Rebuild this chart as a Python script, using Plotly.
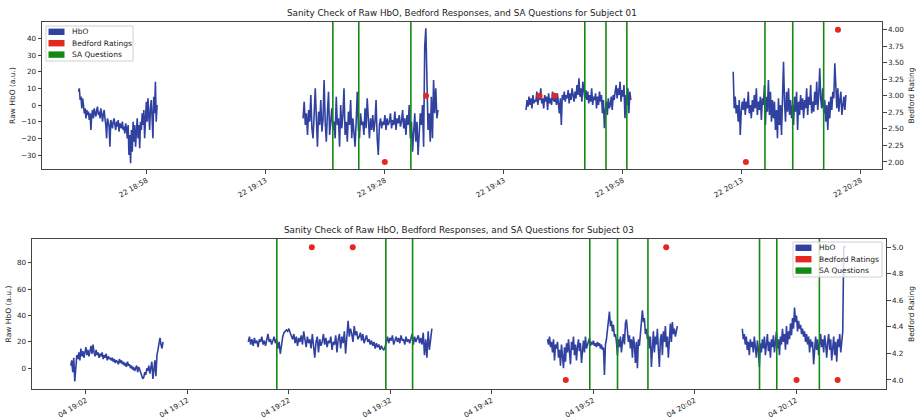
import pandas as pd
import plotly.graph_objects as go

# ---------------- Subject 01 ----------------
s01_day = "2021-09-22"
s01_segments = [("18:49:24", "18:59:18"), ("19:17:42", "19:34:42"),
                ("19:45:48", "19:59:00"), ("20:11:54", "20:26:06")]
s01_hbo_1 = [8, 10, 3, 5, -2, 4, 0, -5, -2, -8, -3, -6, -4, -9, -5, -15, -6, -3, -8, -2, -5, -7, -3, -1, -6, -4, -8, -2, -5, -10, -6, -3, -8,
             -12, -20, -8, -10, -13, -25, -9, -11, -14, -10, -8, -12, -15, -10, -13, -9, -16, -11, -12, -14, -10, -15, -13, -17, -11, -14,
             -20, -12, -30, -18, -35, -15, -28, -10, -22, -12, -25, -15, -8, -20, -12, -26, -10,
             -15, -5, -12, -3, -20, -8, 2, -10, 4, -6, -15, -2, 3, -8, -20, 5, -5, 14, -10, 0]
s01_hbo_2 = [-8, 2, -12, -5, -18, -3, -10, 6, -14,
             -20, -6, 10, -8, -25, -4, -12, 3, -16,
             -9, 15, -10, -22, -5, 8, -18, -12, -2,
             -15, -10, -20, 5, -12, -8, -25, 0, -14,
             -6, 10, -18, -10, -22, -4, -12, 3, -20,
             -8, -15, -25, -10, 8, -14, -20, -5, -12,
             -10, -18, -2, -14, 4, -12, -20, -8, -15,
             -6, -16, -10, 3, -20, -30, -12, -8, -14,
             -10, -12, -6, -15, -8, -12, -10, -5, -14,
             -9, -12, -4, -15, -8, -11, -6, -13, -10,
             -3, -14, -8, -18, -6, -12, 0, -20, -10,
             -28, -15, -5, -22, -10, -30, -18, -5, -12,
             0, -25, 35, 46, 10, -15, -5, -22, 5,
             -20, 15, -5, 10, -8, -3]
s01_hbo_3 = [-3, 3, -1, 5, 0, 4, -2, 6, 1, 3,
             2, 8, 0, 5, 3, 10, 1, 4, -2, 6,
             2, 5, -3, 7, 1, 4, 0, 8, 3, 2,
             5, 0, 7, 2, -5, 4, -12, 6, 3, 8,
             2, 6, 4, 9, 1, 7, 3, 10, 5, 2,
             8, 4, 12, 6, 16, 5, 10, 2, 14, 7,
             4, 9, 3, 8, 1, 6, 2, 10, 0, 5,
             3, 7, -2, 5, 0, 8, 2, 6, -5, 3,
             -14, -3, 2, -6, 4, -2, 0, 5, -3, 6,
             3, 8, 12, 4, 10, 6, 14, 2, 9, 5,
             12, -8, 6, 0, 10, -5, 8, 3]
s01_hbo_4 = [20, -2, 5, -5, 0, -10, 3, -18, -4, 2,
             -3, 4, -6, 2, -2, 8, -5, 0, -8, 3,
             -4, 6, -2, 10, -6, 2, -3, 5, -9, 4,
             0, 12, -12, 5, -4, 15, -6, 8, -10, 3,
             -8, 2, -15, -3, -20, 4, -12, 0, -18, 6,
             26, 2, -10, 8, -4, 10, -6, 3, -8, 0,
             -12, 5, -4, 8, -15, 2, -6, 6, -3, 4,
             -8, 3, -2, 10, -6, 5, 0, 12, -5, 2,
             -4, 8, 0, 14, -3, 6, 22, 4, -2, 10,
             -5, 3, -10, 0, -15, 2, -8, 5, -3, 8,
             4, 25, 6, -2, 10, -4, 3, 8, -6, 2,
             5, -3, 6]
s01_sa_times = ["19:21:27", "19:24:43", "19:31:17", "19:53:12", "19:55:52",
                "19:58:30", "20:15:54", "20:19:24", "20:23:18"]
s01_bedford_times = ["19:28:00", "19:33:12", "19:47:30", "19:49:24", "20:13:30", "20:25:06"]
s01_bedford_vals = [2, 3, 3, 3, 2, 4]

# ---------------- Subject 03 ----------------
s03_day = "2021-10-04"
s03_segments = [("19:00:30", "19:09:36"), ("19:18:00", "19:36:06"),
                ("19:47:30", "20:00:18"), ("20:06:42", "20:16:54")]
s03_hbo_1 = [2, 6, -3, 8, -10, 5, 10, 7, 12, 6,
             15, 9, 13, 8, 11, 16, 10, 14, 9, 12,
             17, 11, 18, 12, 9, 14, 10, 12, 8, 11,
             9, 12, 7, 10, 8, 11, 6, 9, 7, 8,
             6, 8, 5, 7, 4, 6, 5, 3, 7, 4,
             6, 3, 5, 2, 4, 1, 5, 2, 3, 0,
             2, -1, 1, -2, 0, 2, -3, 1, -1, -4,
             -6, -8, -7, -3, -5, 0, -2, 2, -4, 3,
             5, -8, 2, 6, -6, 10, 14, 20, 23, 18,
             15, 20]
s03_hbo_2 = [20, 24, 18, 22, 17, 23, 19, 21, 16, 22,
             20, 24, 18, 21, 17, 23, 26, 20, 22, 18,
             21, 24, 19, 22, 15, 20, 11, 18, 24, 27,
             28, 29, 28, 30, 27, 25, 22, 26, 19, 24,
             17, 23, 20, 25, 18, 28, 21, 16, 24, 19,
             22, 15, 26, 18, 8, 20, 24, 12, 22, 17,
             20, 26, 18, 23, 16, 21, 19, 24, 14, 20,
             18, 25, 12, 22, 26, 15, 24, 19, 28, 11,
             22, 36, 24, 30, 26, 20, 32, 25, 28, 22,
             24, 27, 21, 26, 19, 23, 25, 20, 22, 18,
             21, 17, 20, 15, 19, 16, 18, 14, 17, 15,
             14, 16, 20, 24, 19, 23, 21, 25, 18, 22,
             24, 20, 23, 19, 25, 21, 22, 18, 24, 20,
             22, 19, 23, 26, 18, 24, 20, 22, 25, 19,
             23, 18, 27, 10, 22, 8, 28, 14, 25, 30]
s03_hbo_3 = [22, 18, 24, 16, 20, 12, 22, 6, 18, 15,
             20, 8, 14, 2, 18, 10, 0, 16, 5, 19,
             12, 22, 15, 3, 20, 14, 24, 10, 18, 6,
             16, 22, 13, 19, 4, 17, 21, 12, 24, 15,
             18, 20, 23, 17, 20, 18, 21, 17, 19, 16,
             20, 17, 19, 15, 18, 14, 16, -5, 18, 22,
             30, 38, 43, 32, 36, 28, 33, 24, 26, 20,
             10, 22, 16, 24, 12, 20, 26, 18, 34, 37,
             28, 20, 25, 15, 22, 8, 24, 18, 4, 20,
             0, 22, 17, 26, 30, 44, 35, 38, 26, 30,
             22, 25, 15, 24, 1, 20, 28, 12, 24, 18,
             30, 14, 1, 22, 26, 10, 28, 20, 32, 16,
             24, 8, 28, 34, 20, 35, 26, 30, 24, 28, 32]
s03_hbo_4 = [30, 22, 26, 18, 24, 14, 20, 10, 22, 16,
             20, 12, 24, 18, 8, 21, 14, 1, 19, 12,
             22, 15, 24, 10, 18, 26, 13, 20, 8, 22,
             16, 25, 12, 20, 28, 15, 22, 10, 24, 18,
             30, 20, 26, 14, 32, 18, 28, 22, 34, 25,
             38, 30, 46, 35, 40, 28, 36, 30, 33, 26,
             30, 24, 28, 20, 26, 18, 24, 12, 22, 16,
             20, 3, 18, 24, 14, 22, 10, 20, 26, 16,
             22, 12, 25, 18, 8, 20, 26, 14, 22, 6,
             18, 24, 10, 20, 5, 22, 16, 26, 12, 20,
             28, 92, 92, 92]
s03_sa_times = ["19:20:49", "19:31:34", "19:34:12", "19:51:40", "19:54:24",
                "19:57:24", "20:08:24", "20:10:06", "20:14:18"]
s03_bedford_times = ["19:24:16", "19:28:18", "19:49:18", "19:59:12", "20:12:03", "20:16:06"]
s03_bedford_vals = [5, 5, 4, 5, 4, 4]

titles = ["Sanity Check of Raw HbO, Bedford Responses, and SA Questions for Subject 01",
          "Sanity Check of Raw HbO, Bedford Responses, and SA Questions for Subject 03"]
legend_labels = ["HbO", "Bedford Ratings", "SA Questions"]

BLUE = "#3041a0"
RED = "#e3291f"
GREEN = "#118a11"
legend_colors = [BLUE, RED, GREEN]
FONT = "DejaVu Sans"
TXT = "#222"
W, H = 919, 418


def build_series(day, segments, values_list):
    xs, ys = [], []
    for (a, b), vals in zip(segments, values_list):
        t = pd.date_range(f"{day} {a}", f"{day} {b}", periods=len(vals))
        xs.extend(list(t))
        ys.extend(vals)
        xs.append(None)
        ys.append(None)
    return xs, ys


def px(x):
    return x / W


def py(y):
    return 1 - y / H


fig = go.Figure()

subjects = [
    dict(day=s01_day, segs=s01_segments, vals=[s01_hbo_1, s01_hbo_2, s01_hbo_3, s01_hbo_4],
         sa=s01_sa_times, bt=s01_bedford_times, bv=s01_bedford_vals,
         xa="x", ya="y", ya2="y2", box=(46, 26, 133, 61)),
    dict(day=s03_day, segs=s03_segments, vals=[s03_hbo_1, s03_hbo_2, s03_hbo_3, s03_hbo_4],
         sa=s03_sa_times, bt=s03_bedford_times, bv=s03_bedford_vals,
         xa="x2", ya="y3", ya2="y4", box=(793, 242, 882, 277)),
]

shapes = []
annotations = []
for s in subjects:
    xs, ys = build_series(s["day"], s["segs"], s["vals"])
    fig.add_trace(go.Scatter(x=xs, y=ys, mode="lines", line=dict(color=BLUE, width=1.6),
                             xaxis=s["xa"], yaxis=s["ya"], name="HbO", showlegend=False,
                             connectgaps=False))
    bx = [pd.Timestamp(f"{s['day']} {t}") for t in s["bt"]]
    fig.add_trace(go.Scatter(x=bx, y=s["bv"], mode="markers", name="Bedford Ratings",
                             marker=dict(color=RED, size=6, line=dict(width=0)),
                             xaxis=s["xa"], yaxis=s["ya2"], showlegend=False))
    for t in s["sa"]:
        tt = pd.Timestamp(f"{s['day']} {t}")
        shapes.append(dict(type="line", xref=s["xa"], yref=f"{s['ya']} domain",
                           x0=tt, x1=tt, y0=0, y1=1,
                           line=dict(color=GREEN, width=1.6), layer="above"))
    # matplotlib-style legend box with colour patches
    x0, y0, x1, y1 = s["box"]
    shapes.append(dict(type="rect", xref="paper", yref="paper",
                       x0=px(x0), x1=px(x1), y0=py(y1), y1=py(y0),
                       fillcolor="rgba(255,255,255,0.8)", line=dict(color="#d0d0d0", width=1),
                       layer="above"))
    for i, (lab, col) in enumerate(zip(legend_labels, legend_colors)):
        cy = y0 + 5.8 + i * 11.4
        shapes.append(dict(type="rect", xref="paper", yref="paper",
                           x0=px(x0 + 2.5), x1=px(x0 + 18.5), y0=py(cy + 3.2), y1=py(cy - 3.2),
                           fillcolor=col, line=dict(width=0), layer="above"))
        annotations.append(dict(text=lab, xref="paper", yref="paper", x=px(x0 + 23.5), y=py(cy),
                                xanchor="left", yanchor="middle", showarrow=False,
                                font=dict(family=FONT, size=7.5, color=TXT)))

tickfont = dict(family=FONT, size=7.2, color=TXT)
axis_common = dict(showline=True, linecolor="#444", linewidth=1, mirror=True,
                   ticks="outside", ticklen=3.5, tickcolor="#444", tickfont=tickfont,
                   showgrid=False, zeroline=False, automargin=False)
title_font = dict(family=FONT, size=7.5, color=TXT)

top_x = [px(42), px(882)]
bot_x = [px(32), px(886)]
top_y = [py(169), py(22)]
bot_y = [py(389), py(239)]

annotations += [
    dict(text=titles[0], xref="paper", yref="paper", x=(top_x[0] + top_x[1]) / 2, y=top_y[1],
         xanchor="center", yanchor="bottom", yshift=2, showarrow=False,
         font=dict(family=FONT, size=8.8, color=TXT)),
    dict(text=titles[1], xref="paper", yref="paper", x=(bot_x[0] + bot_x[1]) / 2, y=bot_y[1],
         xanchor="center", yanchor="bottom", yshift=2, showarrow=False,
         font=dict(family=FONT, size=8.8, color=TXT)),
]

fig.update_layout(
    width=W, height=H, autosize=False,
    margin=dict(l=0, r=0, t=0, b=0),
    paper_bgcolor="white", plot_bgcolor="white",
    font=dict(family=FONT, size=7.5, color=TXT),
    shapes=shapes,
    annotations=annotations,
    showlegend=False,
    xaxis=dict(axis_common, domain=top_x, anchor="y", type="date",
               range=["2021-09-22 18:44:48", "2021-09-22 20:30:39"],
               tick0="2021-09-22 18:58:00", dtick=900000, tickformat="%d %H:%M", tickangle=-30),
    yaxis=dict(axis_common, domain=top_y, anchor="x", range=[-38.4, 49.8], dtick=10,
               title=dict(text="Raw HbO (a.u.)", font=title_font, standoff=4)),
    yaxis2=dict(axis_common, overlaying="y", side="right", anchor="x", range=[1.894, 4.116],
                dtick=0.25, tick0=2, tickformat=".2f", showline=False,
                title=dict(text="Bedford Rating", font=title_font, standoff=5)),
    xaxis2=dict(axis_common, domain=bot_x, anchor="y3", type="date",
                range=["2021-10-04 18:56:41", "2021-10-04 20:20:52"],
                tick0="2021-10-04 19:02:00", dtick=600000, tickformat="%d %H:%M", tickangle=-30),
    yaxis3=dict(axis_common, domain=bot_y, anchor="x2", range=[-15.7, 98], dtick=20,
                title=dict(text="Raw HbO (a.u.)", font=title_font, standoff=4)),
    yaxis4=dict(axis_common, overlaying="y3", side="right", anchor="x2", range=[3.932, 5.063],
                dtick=0.2, tick0=4, tickformat=".1f", showline=False,
                title=dict(text="Bedford Rating", font=title_font, standoff=5)),
)

fig.write_html("out.html")
